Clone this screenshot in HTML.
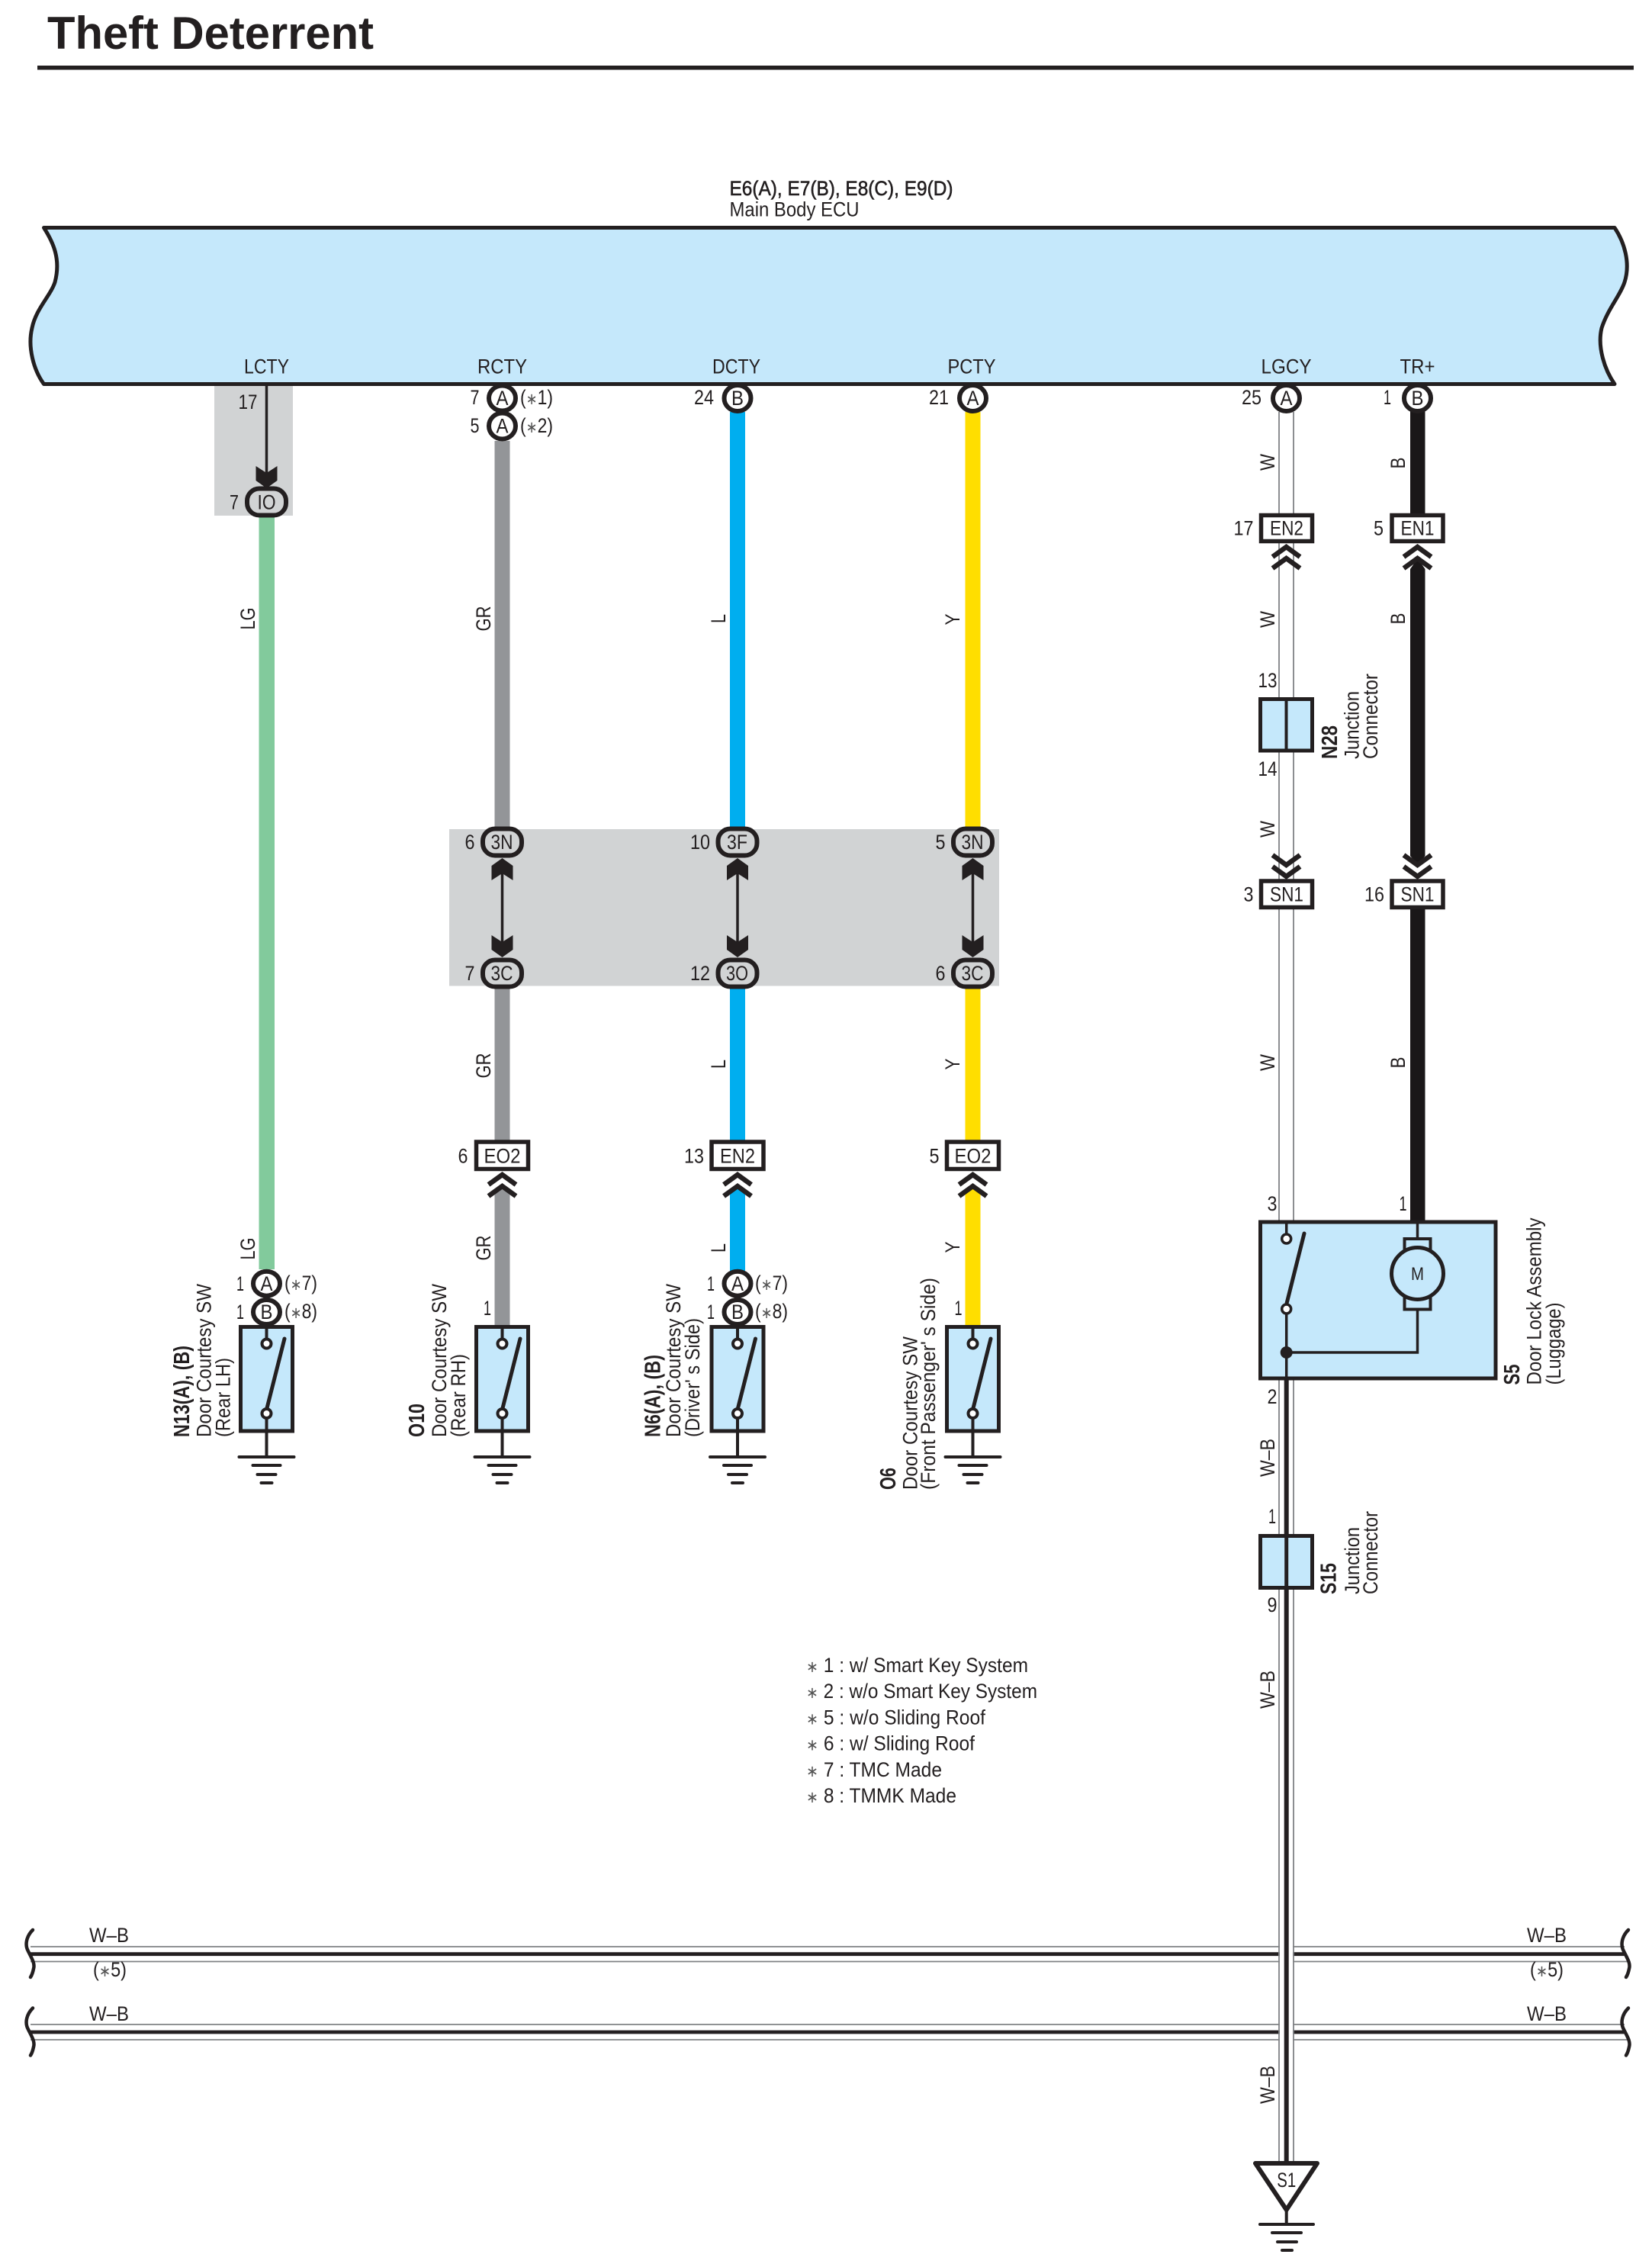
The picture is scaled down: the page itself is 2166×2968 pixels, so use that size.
<!DOCTYPE html>
<html><head><meta charset="utf-8"><title>Theft Deterrent</title>
<style>
html,body{margin:0;padding:0;background:#fff}
svg{display:block}
text{font-family:"Liberation Sans",sans-serif;font-size:27px;fill:#231f20}
.m{text-anchor:middle}
.b{font-weight:bold;font-size:29px}
</style></head><body>
<svg xmlns="http://www.w3.org/2000/svg" width="2166" height="2968" viewBox="0 0 2166 2968">
<defs>
<polygon id="ad" fill="#231f20" points="0,0 14,-10 14,-29 0,-20 -14,-29 -14,-10"/>
<path id="ch" fill="none" stroke="#231f20" stroke-width="6.5" d="M-18 17L0 4L18 17M-18 32L0 19L18 32"/>
<g id="sw">
<rect x="-34" y="1739.5" width="68" height="136.5" fill="#c5e8fb" stroke="#231f20" stroke-width="5"/>
<path d="M0 1739V1756M0 1859V1910" stroke="#231f20" stroke-width="4" fill="none"/>
<path d="M23.5 1755L0 1848" stroke="#231f20" stroke-width="5" stroke-linecap="round" fill="none"/>
<circle cx="0" cy="1761.5" r="6" fill="#fff" stroke="#231f20" stroke-width="4"/>
<circle cx="0" cy="1853" r="6" fill="#fff" stroke="#231f20" stroke-width="4"/>
<path d="M-36 1910H36M-18 1921H18M-12 1933H12M-7 1944H7" stroke="#231f20" stroke-width="4" stroke-linecap="round" fill="none"/>
</g>
<path id="br" d="M43 2530C35 2538 32 2549 37 2558C42 2568 46 2574 44 2581C43 2586 42 2589 40 2592" fill="none" stroke="#231f20" stroke-width="4.5" stroke-linecap="round"/>
</defs>

<!-- Title -->
<text class="b" x="62" y="64" style="font-size:60px" textLength="428" lengthAdjust="spacingAndGlyphs">Theft Deterrent</text>
<rect x="49" y="86" width="2093" height="5.5" fill="#231f20"/>

<!-- ECU -->
<text x="956.5" y="256" textLength="293" lengthAdjust="spacingAndGlyphs" stroke="#231f20" stroke-width=".6">E6(A), E7(B), E8(C), E9(D)</text>
<text x="956.5" y="283.5" textLength="170" lengthAdjust="spacingAndGlyphs">Main Body ECU</text>
<path d="M57.5 298.5H2117C2130 318 2138 345 2130 370C2124 388 2108 405 2100 430C2094 455 2104 485 2117 503.5H57.5C44 485 36 455 42 430C47 405 66 388 72 370C80 340 70 318 57.5 298.5Z" fill="#c5e8fb" stroke="#231f20" stroke-width="5" stroke-linejoin="round"/>
<text class="m" x="349.5" y="489.5" textLength="59" lengthAdjust="spacingAndGlyphs">LCTY</text>
<text class="m" x="658.5" y="489.5" textLength="65" lengthAdjust="spacingAndGlyphs">RCTY</text>
<text class="m" x="965.5" y="489.5" textLength="63" lengthAdjust="spacingAndGlyphs">DCTY</text>
<text class="m" x="1274" y="489.5" textLength="63" lengthAdjust="spacingAndGlyphs">PCTY</text>
<text class="m" x="1686.5" y="489.5" textLength="66" lengthAdjust="spacingAndGlyphs">LGCY</text>
<text class="m" x="1858.5" y="489.5" textLength="46" lengthAdjust="spacingAndGlyphs">TR+</text>

<!-- Grey boxes -->
<rect x="281" y="506" width="103" height="170" fill="#d1d3d4"/>
<rect x="589" y="1087" width="721" height="205.5" fill="#d1d3d4"/>

<!-- Colored wires -->
<rect x="339.5" y="676" width="20.5" height="988" fill="#82ca9c"/>
<g fill="#939598"><rect x="648.5" y="578" width="20" height="509"/><rect x="648.5" y="1294" width="20" height="204"/><polygon points="648.5,1566 658.5,1552 668.5,1566 668.5,1740 648.5,1740"/></g>
<g fill="#00aeef"><rect x="957" y="540" width="20" height="547"/><rect x="957" y="1294" width="20" height="204"/><polygon points="957,1566 967,1552 977,1566 977,1666 957,1666"/></g>
<g fill="#ffde00"><rect x="1265.5" y="540" width="20" height="547"/><rect x="1265.5" y="1294" width="20" height="204"/><polygon points="1265.5,1566 1275.5,1552 1285.5,1566 1285.5,1740 1265.5,1740"/></g>
<g fill="#1a1718"><rect x="1849" y="538" width="19.5" height="138"/><polygon points="1849,746 1858.7,732 1868.5,746 1868.5,1122 1858.7,1134 1849,1122"/><rect x="1849" y="1190" width="19.5" height="412"/></g>

<!-- Horizontal buses -->
<g stroke="#808285" stroke-width="1.8" fill="none">
<path d="M40 2552H2130M40 2571.5H2134M40 2654H2130M40 2674H2134"/>
</g>
<path d="M40 2561.7H2130M40 2664H2130" stroke="#231f20" stroke-width="4.8" fill="none"/>
<use href="#br"/><use href="#br" transform="translate(0,102.5)"/>
<use href="#br" transform="translate(2092,0)"/><use href="#br" transform="translate(2092,102.5)"/>
<text x="117" y="2546" textLength="52" lengthAdjust="spacingAndGlyphs">W–B</text>
<text x="122" y="2591" textLength="44" lengthAdjust="spacingAndGlyphs">(<tspan fill="#555" font-size="21">∗</tspan>5)</text>
<text x="117" y="2649" textLength="52" lengthAdjust="spacingAndGlyphs">W–B</text>
<text x="2002" y="2546" textLength="52" lengthAdjust="spacingAndGlyphs">W–B</text>
<text x="2006" y="2591" textLength="44" lengthAdjust="spacingAndGlyphs">(<tspan fill="#555" font-size="21">∗</tspan>5)</text>
<text x="2002" y="2649" textLength="52" lengthAdjust="spacingAndGlyphs">W–B</text>

<!-- White wire column -->
<rect x="1678" y="2540" width="17" height="145" fill="#fff"/>
<path d="M1677 540V2836M1696 540V2836" stroke="#808285" stroke-width="1.8" fill="none"/>
<rect x="1683.7" y="1805" width="6" height="1032" fill="#231f20"/>

<!-- LCTY arrow / IO -->
<path d="M349.5 506V620" stroke="#231f20" stroke-width="3.5"/>
<use href="#ad" transform="translate(349.5,640)"/>
<rect x="324" y="640.5" width="51" height="35" rx="16" fill="#d1d3d4" stroke="#231f20" stroke-width="6"/>
<text class="m" x="349.5" y="667.5" textLength="24" lengthAdjust="spacingAndGlyphs">IO</text>
<text class="m" x="325" y="536" textLength="25" lengthAdjust="spacingAndGlyphs">17</text>
<text class="m" x="307" y="667.5" textLength="12" lengthAdjust="spacingAndGlyphs">7</text>

<!-- Ovals middle -->
<g fill="none" stroke="#231f20" stroke-width="3.5"><path d="M658.5 1140V1240M967 1140V1240M1275.5 1140V1240"/></g>
<use href="#ad" transform="translate(658.5,1125) scale(1,-1)"/><use href="#ad" transform="translate(967,1125) scale(1,-1)"/><use href="#ad" transform="translate(1275.5,1125) scale(1,-1)"/>
<use href="#ad" transform="translate(658.5,1255)"/><use href="#ad" transform="translate(967,1255)"/><use href="#ad" transform="translate(1275.5,1255)"/>
<g fill="#d1d3d4" stroke="#231f20" stroke-width="6">
<rect x="633" y="1086.5" width="51" height="35" rx="16"/><rect x="941.5" y="1086.5" width="51" height="35" rx="16"/><rect x="1250" y="1086.5" width="51" height="35" rx="16"/>
<rect x="633" y="1258.5" width="51" height="35" rx="16"/><rect x="941.5" y="1258.5" width="51" height="35" rx="16"/><rect x="1250" y="1258.5" width="51" height="35" rx="16"/>
</g>
<text class="m" x="658" y="1113" textLength="29" lengthAdjust="spacingAndGlyphs">3N</text>
<text class="m" x="966.5" y="1113" textLength="27" lengthAdjust="spacingAndGlyphs">3F</text>
<text class="m" x="1275" y="1113" textLength="29" lengthAdjust="spacingAndGlyphs">3N</text>
<text class="m" x="658" y="1285" textLength="29" lengthAdjust="spacingAndGlyphs">3C</text>
<text class="m" x="966.5" y="1285" textLength="29" lengthAdjust="spacingAndGlyphs">3O</text>
<text class="m" x="1275" y="1285" textLength="29" lengthAdjust="spacingAndGlyphs">3C</text>
<text class="m" x="616" y="1113" textLength="13" lengthAdjust="spacingAndGlyphs">6</text>
<text class="m" x="918" y="1113" textLength="26" lengthAdjust="spacingAndGlyphs">10</text>
<text class="m" x="1233" y="1113" textLength="13" lengthAdjust="spacingAndGlyphs">5</text>
<text class="m" x="616" y="1285" textLength="13" lengthAdjust="spacingAndGlyphs">7</text>
<text class="m" x="918" y="1285" textLength="26" lengthAdjust="spacingAndGlyphs">12</text>
<text class="m" x="1233" y="1285" textLength="13" lengthAdjust="spacingAndGlyphs">6</text>

<!-- Top circles -->
<g fill="#fff" stroke="#231f20" stroke-width="6">
<ellipse cx="658.5" cy="522" rx="17.5" ry="16.5"/><ellipse cx="658.5" cy="558.5" rx="17.5" ry="17"/>
<ellipse cx="967" cy="522" rx="17.5" ry="17"/><ellipse cx="1275.5" cy="522" rx="17.5" ry="17"/>
<ellipse cx="1686.5" cy="522" rx="17.5" ry="17"/><ellipse cx="1858.5" cy="522" rx="17.5" ry="17"/>
<ellipse cx="349.5" cy="1682.7" rx="17.5" ry="16"/><ellipse cx="349.5" cy="1720" rx="17.5" ry="16"/>
<ellipse cx="967" cy="1682.7" rx="17.5" ry="16"/><ellipse cx="967" cy="1720" rx="17.5" ry="16"/>
</g>
<text class="m" x="658.5" y="531" textLength="16" lengthAdjust="spacingAndGlyphs">A</text>
<text class="m" x="658.5" y="567.5" textLength="16" lengthAdjust="spacingAndGlyphs">A</text>
<text class="m" x="967" y="531" textLength="16" lengthAdjust="spacingAndGlyphs">B</text>
<text class="m" x="1275.5" y="531" textLength="16" lengthAdjust="spacingAndGlyphs">A</text>
<text class="m" x="1686.5" y="531" textLength="16" lengthAdjust="spacingAndGlyphs">A</text>
<text class="m" x="1858.5" y="531" textLength="16" lengthAdjust="spacingAndGlyphs">B</text>
<text class="m" x="622.5" y="530" textLength="12" lengthAdjust="spacingAndGlyphs">7</text>
<text class="m" x="622.5" y="567" textLength="12" lengthAdjust="spacingAndGlyphs">5</text>
<text x="682" y="530" textLength="43" lengthAdjust="spacingAndGlyphs">(<tspan fill="#555" font-size="21">∗</tspan>1)</text>
<text x="682" y="567" textLength="43" lengthAdjust="spacingAndGlyphs">(<tspan fill="#555" font-size="21">∗</tspan>2)</text>
<text class="m" x="923" y="530" textLength="26" lengthAdjust="spacingAndGlyphs">24</text>
<text class="m" x="1231" y="530" textLength="26" lengthAdjust="spacingAndGlyphs">21</text>
<text class="m" x="1641" y="530" textLength="26" lengthAdjust="spacingAndGlyphs">25</text>
<text class="m" x="1819" y="530" textLength="10" lengthAdjust="spacingAndGlyphs">1</text>

<!-- Bottom circle labels -->
<text class="m" x="349.5" y="1692" textLength="16" lengthAdjust="spacingAndGlyphs">A</text>
<text class="m" x="349.5" y="1729" textLength="16" lengthAdjust="spacingAndGlyphs">B</text>
<text class="m" x="967" y="1692" textLength="16" lengthAdjust="spacingAndGlyphs">A</text>
<text class="m" x="967" y="1729" textLength="16" lengthAdjust="spacingAndGlyphs">B</text>
<text class="m" x="315" y="1692" textLength="10" lengthAdjust="spacingAndGlyphs">1</text>
<text class="m" x="315" y="1729" textLength="10" lengthAdjust="spacingAndGlyphs">1</text>
<text class="m" x="932" y="1692" textLength="10" lengthAdjust="spacingAndGlyphs">1</text>
<text class="m" x="932" y="1729" textLength="10" lengthAdjust="spacingAndGlyphs">1</text>
<text x="373" y="1691" textLength="43" lengthAdjust="spacingAndGlyphs">(<tspan fill="#555" font-size="21">∗</tspan>7)</text>
<text x="373" y="1728" textLength="43" lengthAdjust="spacingAndGlyphs">(<tspan fill="#555" font-size="21">∗</tspan>8)</text>
<text x="990" y="1691" textLength="43" lengthAdjust="spacingAndGlyphs">(<tspan fill="#555" font-size="21">∗</tspan>7)</text>
<text x="990" y="1728" textLength="43" lengthAdjust="spacingAndGlyphs">(<tspan fill="#555" font-size="21">∗</tspan>8)</text>
<text class="m" x="639" y="1724" textLength="10" lengthAdjust="spacingAndGlyphs">1</text>
<text class="m" x="1256.5" y="1724" textLength="10" lengthAdjust="spacingAndGlyphs">1</text>

<!-- Switches -->
<use href="#sw" transform="translate(349.5,0)"/><use href="#sw" transform="translate(658.5,0)"/><use href="#sw" transform="translate(967,0)"/><use href="#sw" transform="translate(1275.5,0)"/>

<!-- Switch labels -->
<text class="b" transform="translate(248,1884) rotate(-90)" textLength="120" lengthAdjust="spacingAndGlyphs">N13(A), (B)</text>
<text transform="translate(276.5,1884) rotate(-90)" textLength="201" lengthAdjust="spacingAndGlyphs">Door Courtesy SW</text>
<text transform="translate(301.5,1884) rotate(-90)" textLength="104" lengthAdjust="spacingAndGlyphs">(Rear LH)</text>
<text class="b" transform="translate(556,1884) rotate(-90)" textLength="44" lengthAdjust="spacingAndGlyphs">O10</text>
<text transform="translate(585,1884) rotate(-90)" textLength="201" lengthAdjust="spacingAndGlyphs">Door Courtesy SW</text>
<text transform="translate(610,1884) rotate(-90)" textLength="109" lengthAdjust="spacingAndGlyphs">(Rear RH)</text>
<text class="b" transform="translate(865.5,1884) rotate(-90)" textLength="108" lengthAdjust="spacingAndGlyphs">N6(A), (B)</text>
<text transform="translate(892,1884) rotate(-90)" textLength="201" lengthAdjust="spacingAndGlyphs">Door Courtesy SW</text>
<text transform="translate(917,1884) rotate(-90)" textLength="156" lengthAdjust="spacingAndGlyphs">(Driver' s Side)</text>
<text class="b" transform="translate(1174,1953) rotate(-90)" textLength="29" lengthAdjust="spacingAndGlyphs">O6</text>
<text transform="translate(1202.5,1953) rotate(-90)" textLength="201" lengthAdjust="spacingAndGlyphs">Door Courtesy SW</text>
<text transform="translate(1226,1953) rotate(-90)" textLength="278" lengthAdjust="spacingAndGlyphs">(Front Passenger' s Side)</text>

<!-- Wire colour labels -->
<text class="m" transform="translate(334,811) rotate(-90)" textLength="29" lengthAdjust="spacingAndGlyphs">LG</text>
<text class="m" transform="translate(334,1637) rotate(-90)" textLength="29" lengthAdjust="spacingAndGlyphs">LG</text>
<text class="m" transform="translate(643,811) rotate(-90)" textLength="33" lengthAdjust="spacingAndGlyphs">GR</text>
<text class="m" transform="translate(643,1397) rotate(-90)" textLength="33" lengthAdjust="spacingAndGlyphs">GR</text>
<text class="m" transform="translate(643,1636) rotate(-90)" textLength="33" lengthAdjust="spacingAndGlyphs">GR</text>
<text class="m" transform="translate(951,811) rotate(-90)" textLength="12" lengthAdjust="spacingAndGlyphs">L</text>
<text class="m" transform="translate(951,1395) rotate(-90)" textLength="12" lengthAdjust="spacingAndGlyphs">L</text>
<text class="m" transform="translate(951,1636) rotate(-90)" textLength="12" lengthAdjust="spacingAndGlyphs">L</text>
<text class="m" transform="translate(1258,812) rotate(-90)" textLength="15" lengthAdjust="spacingAndGlyphs">Y</text>
<text class="m" transform="translate(1258,1395) rotate(-90)" textLength="15" lengthAdjust="spacingAndGlyphs">Y</text>
<text class="m" transform="translate(1258,1635) rotate(-90)" textLength="15" lengthAdjust="spacingAndGlyphs">Y</text>
<text class="m" transform="translate(1671,606) rotate(-90)" textLength="22" lengthAdjust="spacingAndGlyphs">W</text>
<text class="m" transform="translate(1671,812) rotate(-90)" textLength="22" lengthAdjust="spacingAndGlyphs">W</text>
<text class="m" transform="translate(1671,1087) rotate(-90)" textLength="22" lengthAdjust="spacingAndGlyphs">W</text>
<text class="m" transform="translate(1671,1393) rotate(-90)" textLength="22" lengthAdjust="spacingAndGlyphs">W</text>
<text class="m" transform="translate(1842,607) rotate(-90)" textLength="15" lengthAdjust="spacingAndGlyphs">B</text>
<text class="m" transform="translate(1842,811) rotate(-90)" textLength="15" lengthAdjust="spacingAndGlyphs">B</text>
<text class="m" transform="translate(1842,1393) rotate(-90)" textLength="15" lengthAdjust="spacingAndGlyphs">B</text>
<text class="m" transform="translate(1671,1911) rotate(-90)" textLength="50" lengthAdjust="spacingAndGlyphs">W–B</text>
<text class="m" transform="translate(1671,2215) rotate(-90)" textLength="50" lengthAdjust="spacingAndGlyphs">W–B</text>
<text class="m" transform="translate(1671,2733) rotate(-90)" textLength="50" lengthAdjust="spacingAndGlyphs">W–B</text>

<!-- Rect connectors -->
<g fill="#fff" stroke="#231f20" stroke-width="5.5">
<rect x="624.5" y="1497" width="68" height="35.5"/><rect x="933" y="1497" width="68" height="35.5"/><rect x="1241.5" y="1497" width="68" height="35.5"/>
<rect x="1653.5" y="675.5" width="67" height="34"/><rect x="1825" y="675.5" width="67" height="34"/>
<rect x="1653.5" y="1155" width="67" height="34.5"/><rect x="1825" y="1155" width="67" height="34.5"/>
</g>
<text class="m" x="658.5" y="1524.5" textLength="48" lengthAdjust="spacingAndGlyphs">EO2</text>
<text class="m" x="967" y="1524.5" textLength="46" lengthAdjust="spacingAndGlyphs">EN2</text>
<text class="m" x="1275.5" y="1524.5" textLength="48" lengthAdjust="spacingAndGlyphs">EO2</text>
<text class="m" x="607" y="1524.5" textLength="13" lengthAdjust="spacingAndGlyphs">6</text>
<text class="m" x="910" y="1524.5" textLength="26" lengthAdjust="spacingAndGlyphs">13</text>
<text class="m" x="1225" y="1524.5" textLength="13" lengthAdjust="spacingAndGlyphs">5</text>
<text class="m" x="1687" y="701.5" textLength="44" lengthAdjust="spacingAndGlyphs">EN2</text>
<text class="m" x="1858.5" y="701.5" textLength="44" lengthAdjust="spacingAndGlyphs">EN1</text>
<text class="m" x="1687" y="1181.5" textLength="44" lengthAdjust="spacingAndGlyphs">SN1</text>
<text class="m" x="1858.5" y="1181.5" textLength="44" lengthAdjust="spacingAndGlyphs">SN1</text>
<text class="m" x="1630.5" y="701.5" textLength="26" lengthAdjust="spacingAndGlyphs">17</text>
<text class="m" x="1807.5" y="701.5" textLength="13" lengthAdjust="spacingAndGlyphs">5</text>
<text class="m" x="1637" y="1181.5" textLength="13" lengthAdjust="spacingAndGlyphs">3</text>
<text class="m" x="1802" y="1181.5" textLength="26" lengthAdjust="spacingAndGlyphs">16</text>

<!-- Chevrons -->
<use href="#ch" transform="translate(658.5,1536)"/><use href="#ch" transform="translate(967,1536)"/><use href="#ch" transform="translate(1275.5,1536)"/>
<use href="#ch" transform="translate(1686.5,713)"/><use href="#ch" transform="translate(1858.5,713)"/>
<use href="#ch" transform="translate(1686.5,1153) scale(1,-1)"/><use href="#ch" transform="translate(1858.5,1153) scale(1,-1)"/>

<!-- N28 -->
<rect x="1652.5" y="916.5" width="68" height="67.5" fill="#c5e8fb" stroke="#231f20" stroke-width="5"/>
<path d="M1686.5 916V984" stroke="#231f20" stroke-width="4"/>
<text class="m" x="1662" y="901" textLength="25" lengthAdjust="spacingAndGlyphs">13</text>
<text class="m" x="1662" y="1017" textLength="25" lengthAdjust="spacingAndGlyphs">14</text>
<text class="b" transform="translate(1753,995) rotate(-90)" textLength="44" lengthAdjust="spacingAndGlyphs">N28</text>
<text transform="translate(1781.5,995) rotate(-90)" textLength="89" lengthAdjust="spacingAndGlyphs">Junction</text>
<text transform="translate(1806,995) rotate(-90)" textLength="112" lengthAdjust="spacingAndGlyphs">Connector</text>

<!-- S5 -->
<rect x="1652.5" y="1602" width="308.5" height="205" fill="#c5e8fb" stroke="#231f20" stroke-width="5"/>
<g fill="none" stroke="#231f20" stroke-width="3.5">
<path d="M1686.7 1602V1618M1686.7 1722V1807M1686.7 1773H1858.5V1715M1858.5 1602V1625"/>
</g>
<path d="M1710 1617L1686.7 1710" stroke="#231f20" stroke-width="5" stroke-linecap="round"/>
<circle cx="1686.7" cy="1624" r="6" fill="#fff" stroke="#231f20" stroke-width="3.5"/>
<circle cx="1686.7" cy="1716" r="6" fill="#fff" stroke="#231f20" stroke-width="3.5"/>
<circle cx="1686.7" cy="1773" r="8" fill="#231f20"/>
<rect x="1841.5" y="1624" width="34" height="16" fill="#c5e8fb" stroke="#231f20" stroke-width="4"/>
<rect x="1841.5" y="1700" width="34" height="16.5" fill="#c5e8fb" stroke="#231f20" stroke-width="4"/>
<circle cx="1858.5" cy="1669.5" r="34" fill="#c5e8fb" stroke="#231f20" stroke-width="5"/>
<text class="m" x="1858.5" y="1678" style="font-size:24px" textLength="17" lengthAdjust="spacingAndGlyphs">M</text>
<text class="m" x="1668" y="1587" textLength="13" lengthAdjust="spacingAndGlyphs">3</text>
<text class="m" x="1839.5" y="1587" textLength="10" lengthAdjust="spacingAndGlyphs">1</text>
<text class="m" x="1668" y="1840" textLength="13" lengthAdjust="spacingAndGlyphs">2</text>
<text class="b" transform="translate(1992,1815.5) rotate(-90)" textLength="27" lengthAdjust="spacingAndGlyphs">S5</text>
<text transform="translate(2020.5,1815.5) rotate(-90)" textLength="219" lengthAdjust="spacingAndGlyphs">Door Lock Assembly</text>
<text transform="translate(2046,1815.5) rotate(-90)" textLength="108" lengthAdjust="spacingAndGlyphs">(Luggage)</text>

<!-- S15 -->
<rect x="1652.5" y="2013.5" width="68" height="68" fill="#c5e8fb" stroke="#231f20" stroke-width="5"/>
<path d="M1686.7 2013V2082" stroke="#231f20" stroke-width="5"/>
<text class="m" x="1668" y="1997" textLength="10" lengthAdjust="spacingAndGlyphs">1</text>
<text class="m" x="1668" y="2113" textLength="13" lengthAdjust="spacingAndGlyphs">9</text>
<text class="b" transform="translate(1751.5,2090) rotate(-90)" textLength="41" lengthAdjust="spacingAndGlyphs">S15</text>
<text transform="translate(1782,2090) rotate(-90)" textLength="88" lengthAdjust="spacingAndGlyphs">Junction</text>
<text transform="translate(1806,2090) rotate(-90)" textLength="109" lengthAdjust="spacingAndGlyphs">Connector</text>

<!-- Ground S1 -->
<polygon points="1646,2836 1727,2836 1686.7,2897" fill="#fff" stroke="#231f20" stroke-width="6" stroke-linejoin="round"/>
<text class="m" x="1686.7" y="2867" textLength="25" lengthAdjust="spacingAndGlyphs">S1</text>
<path d="M1686.7 2897V2916M1652 2916H1722M1668 2927H1706M1675 2939H1700M1681 2950H1694" stroke="#231f20" stroke-width="4" stroke-linecap="round" fill="none"/>

<!-- Legend -->
<text x="1057" y="2192" textLength="291" lengthAdjust="spacingAndGlyphs"><tspan fill="#555" font-size="21">∗</tspan> 1 : w/ Smart Key System</text>
<text x="1057" y="2226" textLength="303" lengthAdjust="spacingAndGlyphs"><tspan fill="#555" font-size="21">∗</tspan> 2 : w/o Smart Key System</text>
<text x="1057" y="2260.5" textLength="235" lengthAdjust="spacingAndGlyphs"><tspan fill="#555" font-size="21">∗</tspan> 5 : w/o Sliding Roof</text>
<text x="1057" y="2294.5" textLength="221" lengthAdjust="spacingAndGlyphs"><tspan fill="#555" font-size="21">∗</tspan> 6 : w/ Sliding Roof</text>
<text x="1057" y="2329" textLength="178" lengthAdjust="spacingAndGlyphs"><tspan fill="#555" font-size="21">∗</tspan> 7 : TMC Made</text>
<text x="1057" y="2363" textLength="197" lengthAdjust="spacingAndGlyphs"><tspan fill="#555" font-size="21">∗</tspan> 8 : TMMK Made</text>
</svg>
</body></html>
